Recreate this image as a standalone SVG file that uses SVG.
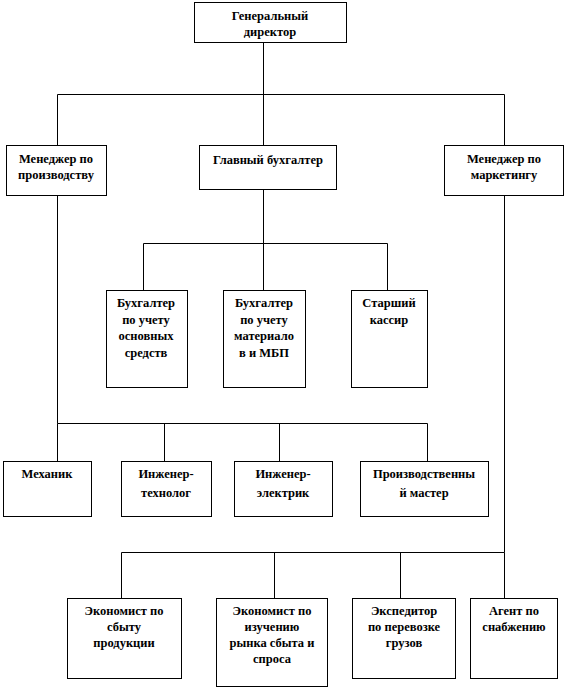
<svg xmlns="http://www.w3.org/2000/svg" width="566" height="689" viewBox="0 0 566 689">
<style>
rect{fill:#fff;stroke:#000;stroke-width:1}
#connectors path{fill:none;stroke:#000;stroke-width:1}
.t text{font-weight:bold;font-size:12.5px;text-anchor:middle;fill:#000}
</style>
<rect x="0" y="0" width="566" height="689" style="fill:#fff;stroke:none"/>
<g id="connectors">
<path d="M263.5 42V94.5M57.5 94.5H504.5M57.5 94.5V145M263.5 94.5V145M504.5 94.5V145"/>
<path d="M263.5 189V243.5M143.5 243.5H387.5M143.5 243.5V290M263.5 243.5V290M387.5 243.5V290"/>
<path d="M57.5 195V423.5H427.5M57.5 423.5V461M164.5 423.5V461M279.5 423.5V461M427.5 423.5V461"/>
<path d="M504.5 195V552.5H121.5M121.5 552.5V598M274.5 552.5V598M400.5 552.5V598M504.5 552.5V598"/>
</g>
<g class="t" font-family="Liberation Serif, Times New Roman, serif">
<g id="gen"><rect x="194.5" y="2.5" width="152" height="40"/><text x="270" y="20">Генеральный</text><text x="270" y="36">директор</text></g>
<g id="mgr-prod"><rect x="6.5" y="145.5" width="100" height="50"/><text x="56" y="163">Менеджер по</text><text x="56" y="179">производству</text></g>
<g id="chief-acc"><rect x="199.5" y="145.5" width="137" height="44"/><text x="268" y="164">Главный бухгалтер</text></g>
<g id="mgr-mkt"><rect x="444.5" y="145.5" width="119" height="50"/><text x="504" y="163">Менеджер по</text><text x="504" y="179">маркетингу</text></g>
<g id="acc-os"><rect x="106.5" y="290.5" width="81" height="97"/><text x="146" y="307">Бухгалтер</text><text x="146" y="323.5">по учету</text><text x="146" y="340">основных</text><text x="146" y="356.5">средств</text></g>
<g id="acc-mat"><rect x="223.5" y="290.5" width="82" height="97"/><text x="264" y="307">Бухгалтер</text><text x="264" y="323.5">по учету</text><text x="264" y="340">материало</text><text x="264" y="356.5">в и МБП</text></g>
<g id="cashier"><rect x="351.5" y="290.5" width="76" height="97"/><text x="389" y="307">Старший</text><text x="389" y="323.5">кассир</text></g>
<g id="mechanic"><rect x="3.5" y="461.5" width="88" height="55"/><text x="47" y="478">Механик</text></g>
<g id="eng-tech"><rect x="121.5" y="461.5" width="90" height="55"/><text x="166" y="478">Инженер-</text><text x="166" y="497">технолог</text></g>
<g id="eng-el"><rect x="234.5" y="461.5" width="98" height="55"/><text x="283" y="478">Инженер-</text><text x="283" y="497">электрик</text></g>
<g id="foreman"><rect x="360.5" y="461.5" width="128" height="55"/><text x="424" y="478">Производственны</text><text x="424" y="497">й мастер</text></g>
<g id="econ-sales"><rect x="67.5" y="598.5" width="114" height="80"/><text x="124" y="615">Экономист по</text><text x="124" y="631">сбыту</text><text x="124" y="647">продукции</text></g>
<g id="econ-market"><rect x="216.5" y="598.5" width="111" height="88"/><text x="272" y="615">Экономист по</text><text x="272" y="631">изучению</text><text x="272" y="647">рынка сбыта и</text><text x="272" y="663">спроса</text></g>
<g id="forwarder"><rect x="352.5" y="598.5" width="103" height="80"/><text x="404" y="615">Экспедитор</text><text x="404" y="631">по перевозке</text><text x="404" y="647">грузов</text></g>
<g id="agent"><rect x="470.5" y="598.5" width="87" height="80"/><text x="514" y="615">Агент по</text><text x="514" y="631">снабжению</text></g>
</g>
</svg>
